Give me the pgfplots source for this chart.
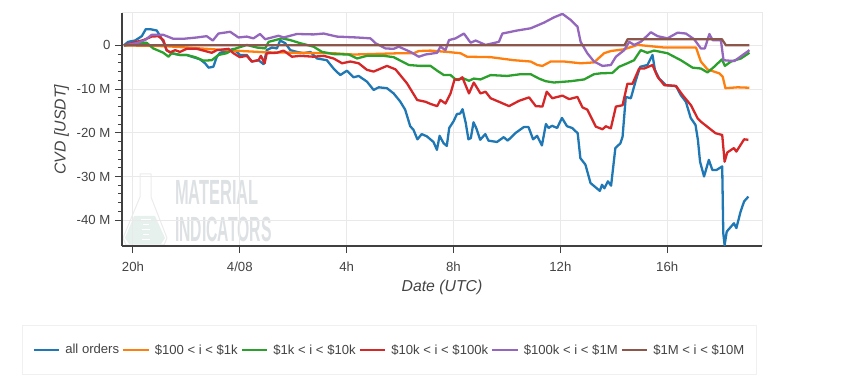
\documentclass[border=0pt]{standalone}
\usepackage{pgfplots}
\pgfplotsset{compat=1.18}
\usepackage{fontspec}
\setmainfont{Liberation Sans}
\definecolor{cblue}{HTML}{1F77B4}
\definecolor{corange}{HTML}{FF7F0E}
\definecolor{cgreen}{HTML}{2CA02C}
\definecolor{cred}{HTML}{D62728}
\definecolor{cpurple}{HTML}{9467BD}
\definecolor{cbrown}{HTML}{8C564B}
\definecolor{gridc}{HTML}{E9E9E9}
\definecolor{txt}{HTML}{444444}
\definecolor{wm}{HTML}{DDE1E4}
\definecolor{liq}{HTML}{E6F1EE}
\begin{document}
\begin{tikzpicture}[x=1pt,y=1pt]
\path[use as bounding box] (0,0) rectangle (848,375);
% watermark
\fill[fill=liq] (125,137) -- (134,159) -- (155,159) -- (165,137) -- (161,131) -- (129,131) -- cycle;
\foreach \yy/\xa/\xb in {161/142/150,156/141/151,151/143/149,146/142/150,141/143/149,136/142/150}
  \draw[color=white,line width=.8pt] (\xa,\yy) -- (\xb,\yy);
\draw[color=black!8,line width=1pt,line join=round] (140,201) -- (151,201) -- (151,178) -- (167,137) -- (164,130) -- (126,130) -- (123,137) -- (140,178) -- cycle;
\node[anchor=west,font=\bfseries\fontsize{35}{35}\selectfont,text=wm,xscale=.47,inner sep=0] at (175,183) {MATERIAL};
\node[anchor=west,font=\bfseries\fontsize{35}{35}\selectfont,text=wm,xscale=.45,inner sep=0] at (175,146) {INDICATORS};
\begin{axis}[
  at={(122pt,129pt)},anchor=south west,
  scale only axis,width=640pt,height=233pt,
  xmin=-0.41,xmax=23.55,ymin=-45.9,ymax=7.4,
  axis x line*=bottom,axis y line*=left,
  axis line style={color=black!75,line width=1.2pt,-},
  grid=major,major grid style={color=gridc,line width=1pt},
  xtick={0,4,8,12,16,20},
  xticklabels={20h,4/08,4h,8h,12h,16h},
  ytick={-40,-30,-20,-10,0},
  yticklabels={-40 M,-30 M,-20 M,-10 M,0},
  minor y tick num=4,
  tick align=outside,
  major tick length=7pt,minor tick length=4pt,
  tick style={color=black!75,line width=1pt},
  minor tick style={color=black!75,line width=1pt},
  ticklabel style={font=\fontsize{13.2}{15}\selectfont,text=txt},
  yticklabel style={xshift=-1pt},
  xticklabel style={yshift=-5pt},
  xlabel={\textit{Date (UTC)}},ylabel={\textit{CVD [USDT]}},
  label style={font=\fontsize{15.8}{17}\selectfont,text=txt},
  xlabel style={yshift=-2pt},
  ylabel style={yshift=1pt},
  clip=true,
  every axis plot/.style={line width=2.3pt,line join=round,no markers},
  legend columns=6,
  legend cell align=left,
  legend style={at={(0.418,-0.446)},anchor=center,draw=black!6,line width=1pt,fill=white,
    inner xsep=10pt,inner ysep=17pt,
    font=\fontsize{13.1}{14}\selectfont,text=txt,
    /tikz/every odd column/.append style={column sep=3pt},
    /tikz/every even column/.append style={column sep=1pt}},
  legend image code/.code={\draw[#1,line width=2.1pt] (0,0) -- (25.5pt,0);},
  after end axis/.code={
    \draw[color=gridc,line width=1pt] (rel axis cs:0,1) -- (rel axis cs:1,1) -- (rel axis cs:1,0);
  },
]
\addplot[color=cblue] coordinates {
(-.34,0)(-.18,.8)(.08,1.1)(.33,2.1)(.48,3.7)(.64,3.7)(.89,3.4)(.99,2.4)(1.14,.8)(1.26,-1.1)(1.45,-1.8)(1.76,-2.2)(2.01,-2.2)(2.26,-2.7)(2.51,-3.2)(2.7,-4.1)(2.83,-5.1)(3.01,-4.9)(3.14,-2.6)(3.26,-1.7)(3.58,-1.2)(3.76,-.8)(4.01,-2.2)(4.26,-2.2)(4.45,-3.7)(4.7,-3.4)(4.89,-4.3)(5.01,-1.1)(5.2,-.5)(5.39,-.7)(5.51,1.1)(5.7,.5)(5.89,-1.1)(6.14,-1.5)(6.39,-1.8)(6.64,-1.5)(6.89,-3)(7.26,-3.4)(7.51,-5.3)(7.76,-6.8)(8.01,-5.8)(8.26,-7.3)(8.45,-7)(8.76,-8.3)(9.01,-10.2)(9.2,-9.6)(9.51,-9.8)(9.76,-11)(10,-12.8)(10.19,-14.7)(10.38,-18.5)(10.5,-19.3)(10.65,-21.5)(10.81,-20.3)(11,-20.8)(11.25,-22.1)(11.38,-23.9)(11.48,-20.7)(11.63,-22.4)(11.75,-23)(11.84,-18.9)(12,-17.4)(12.13,-15.7)(12.25,-15.6)(12.34,-14.6)(12.46,-17.8)(12.56,-21.5)(12.65,-21.2)(12.75,-17.6)(12.85,-18.9)(13,-21.6)(13.19,-20.3)(13.31,-21.8)(13.63,-22.1)(13.88,-21)(14.03,-21.8)(14.31,-20.1)(14.63,-18.7)(14.81,-18.7)(14.98,-21.5)(15.13,-20.7)(15.31,-22.9)(15.46,-18)(15.56,-18.9)(15.69,-18.4)(15.88,-18.9)(16.06,-16.6)(16.25,-18.5)(16.44,-18.9)(16.65,-20.1)(16.75,-25.8)(16.94,-27.3)(17.13,-31.5)(17.48,-33.3)(17.56,-31.9)(17.65,-32.7)(17.78,-31.1)(17.9,-32.1)(18.06,-23.5)(18.25,-22.4)(18.33,-20.9)(18.45,-11.8)(18.64,-12.1)(18.83,-7.9)(18.99,-4.9)(19.26,-4.5)(19.45,-2.2)(19.54,-5.6)(19.7,-7.6)(19.95,-9.1)(20.33,-9.3)(20.51,-11.4)(20.7,-12.9)(20.88,-16.6)(21.06,-18.2)(21.15,-21.6)(21.23,-26.6)(21.38,-30)(21.56,-26.2)(21.69,-28.5)(21.85,-28.5)(22.06,-27.7)(22.1,-43)(22.15,-45.7)(22.23,-42.6)(22.5,-40.7)(22.59,-41.8)(22.75,-38)(22.88,-35.7)(23.04,-34.6)};
\addlegendentry{all orders}
\addplot[color=corange] coordinates {
(-.34,0)(1.26,-.2)(2.51,-.7)(3.76,-1.2)(5.01,-1.6)(6.26,-1.7)(7.51,-1.8)(8.26,-2.1)(10.01,-1.8)(10.51,-1.8)(10.7,-1.3)(11.14,-1.2)(11.76,-1.5)(12.26,-1.8)(12.51,-2.6)(13.39,-2.7)(14.26,-3.4)(14.89,-3.7)(15.14,-4.5)(15.33,-4.7)(15.64,-3.7)(16.14,-3.7)(16.76,-4.1)(17.26,-3.9)(17.64,-1.8)(17.89,-1.3)(18.39,-.9)(18.89,.1)(19.39,-.2)(19.89,-.5)(21.08,-.5)(21.26,-3.7)(21.51,-5.5)(21.95,-6.4)(22.08,-7.2)(22.18,-9.8)(22.64,-9.6)(23.08,-9.7)};
\addlegendentry{\$100 < i < \$1k}
\addplot[color=cgreen] coordinates {
(-.34,0)(.39,.5)(.51,.6)(.76,-.7)(1.14,-1.7)(1.33,-2.6)(1.45,-1.8)(1.76,-2.2)(2.01,-2.2)(2.33,-2.7)(2.64,-3.5)(2.95,-3.4)(3.2,-2.2)(3.51,-1.8)(3.76,-.9)(4.26,.1)(4.64,-.5)(4.95,-.7)(5.08,.8)(5.33,1.2)(5.58,1.6)(5.89,1.2)(6.26,.5)(6.76,-.3)(7.08,-1.5)(7.51,-2)(8.08,-2.1)(8.39,-3)(8.76,-2.4)(9.39,-2.4)(9.76,-2.7)(10.33,-4.5)(10.76,-4.7)(11.14,-4.7)(11.39,-5.8)(11.64,-6.8)(11.89,-6.8)(12.08,-7.8)(12.39,-7.6)(12.58,-8.1)(12.76,-7.6)(13.01,-7.8)(13.39,-6.8)(14.01,-7)(14.51,-6.6)(14.89,-6.6)(15.2,-7.6)(15.45,-8.2)(15.76,-8.5)(16.39,-8.2)(16.89,-7.8)(17.26,-6.6)(17.51,-6.4)(17.95,-6.3)(18.2,-4.9)(18.51,-4.1)(18.76,-3.4)(19.01,-1.1)(19.26,-1.7)(19.51,-1.2)(20.01,-1.8)(20.51,-3.4)(20.95,-5.1)(21.26,-5.3)(21.51,-6.2)(21.76,-4.9)(22.05,-3.2)(22.16,-4.7)(22.39,-3.7)(22.76,-3)(23.08,-1.7)};
\addlegendentry{\$1k < i < \$10k}
\addplot[color=cred] coordinates {
(-.34,0)(.01,.6)(.39,1.2)(.7,2)(.95,2.1)(1.14,1.2)(1.26,-1.1)(1.39,-1.6)(1.58,-1.1)(1.76,-1.5)(2.01,-.8)(2.39,-.8)(2.64,-1.2)(2.95,-1.7)(3.14,-1.1)(3.58,-.8)(3.76,-1.8)(4,-2.7)(4.26,-2.4)(4.45,-3.7)(4.7,-3.4)(4.79,-2.4)(4.93,-4.1)(5.01,-1.8)(5.39,-1.7)(5.64,-1.2)(5.95,-2.6)(6.26,-2.4)(6.76,-2.6)(7.14,-2.4)(7.51,-3)(7.83,-4.1)(8.14,-3.7)(8.45,-4.1)(8.76,-5.6)(9.01,-6)(9.51,-4.7)(9.83,-5.5)(10.26,-8.7)(10.64,-12.5)(10.95,-12.9)(11.14,-13.4)(11.39,-13.9)(11.51,-12.5)(11.7,-13.3)(11.89,-11)(12.04,-7.8)(12.2,-7.9)(12.33,-7.3)(12.58,-11)(12.76,-8.5)(13.01,-11)(13.2,-10.6)(13.39,-12.1)(13.7,-12.9)(14.08,-13.9)(14.45,-12.7)(14.83,-11.9)(15.08,-13.9)(15.33,-14)(15.49,-10.6)(15.7,-12.1)(16.08,-11.5)(16.33,-12.3)(16.64,-11.8)(16.83,-14.2)(17.01,-14.7)(17.33,-18.6)(17.58,-19.2)(17.7,-18.5)(17.89,-19)(18.08,-14)(18.33,-13.7)(18.51,-8.8)(18.7,-8.8)(18.95,-5.3)(19.14,-5.3)(19.45,-4.5)(19.64,-7.2)(19.89,-9.1)(20.33,-9.3)(20.58,-11.4)(20.89,-13.7)(21.14,-16.7)(21.25,-17.4)(21.56,-18.9)(21.81,-20.1)(22.06,-20.5)(22.15,-26.6)(22.25,-24.5)(22.5,-23.5)(22.59,-24.3)(22.88,-21.5)(23.04,-21.6)};
\addlegendentry{\$10k < i < \$100k}
\addplot[color=cpurple] coordinates {
(-.34,0)(.14,.5)(.45,1.2)(.7,2.4)(1.14,2.4)(1.51,1.5)(1.89,1.5)(2.39,1.8)(2.76,2.1)(2.99,1.1)(3.2,2.7)(3.64,3.1)(3.95,1.8)(4.26,2)(4.51,1.6)(4.76,2.6)(4.95,1.4)(5.45,2.2)(5.64,1.8)(6.14,2.6)(6.76,2.5)(7.14,2.7)(7.64,2)(8.39,1.8)(8.89,1.6)(9.08,.5)(9.45,-.7)(9.76,-.8)(9.95,-.3)(10.39,-1.5)(10.7,-2.6)(10.95,-2.1)(11.39,-1.7)(11.51,-.3)(11.7,-1.1)(11.83,1.2)(12.08,1.6)(12.39,2.7)(12.64,.6)(12.83,1.1)(13.2,.1)(13.7,.8)(13.83,2.7)(14.39,3.4)(14.89,3.9)(15.39,5.2)(15.76,6.4)(16.08,7.2)(16.39,5.8)(16.64,4.3)(16.76,.8)(17.01,-1.8)(17.26,-3.7)(17.58,-4.7)(17.89,-4.5)(18.08,-2.6)(18.39,-1.1)(18.58,.8)(18.76,.1)(19.01,.8)(19.39,3)(19.64,2.1)(20.01,1.6)(20.39,2.9)(20.7,2.7)(21.01,1.4)(21.26,-.7)(21.41,-.7)(21.58,2.6)(21.7,1.2)(22.01,1.2)(22.11,-3.4)(22.51,-3.6)(22.83,-2.2)(23.08,-1.1)};
\addlegendentry{\$100k < i < \$1M}
\addplot[color=cbrown] coordinates {
(-.34,0)(18.4,0)(18.52,1.4)(22.05,1.4)(22.2,0)(23.08,0)};
\addlegendentry{\$1M < i < \$10M}
\end{axis}
\end{tikzpicture}
\end{document}
